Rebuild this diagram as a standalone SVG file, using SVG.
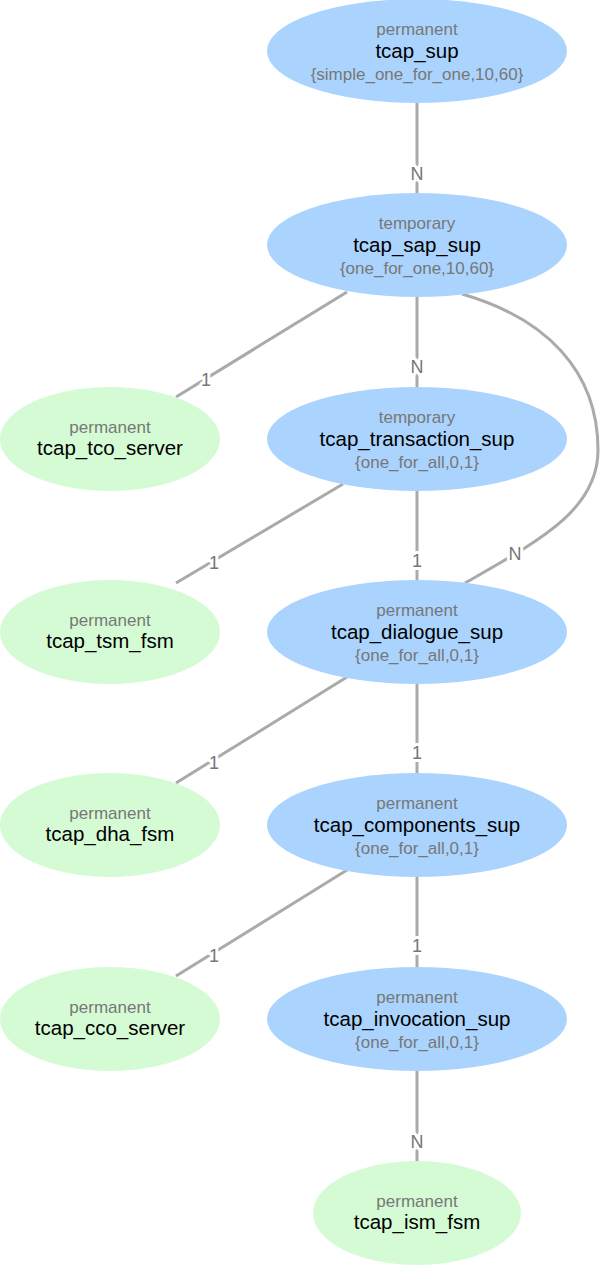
<svg xmlns="http://www.w3.org/2000/svg" width="600" height="1266" viewBox="0 0 600 1266">
<style>
.bg{fill:#ffffff}
.sup{fill:#aad4fe}
.wrk{fill:#d5fbd5}
.t{font-family:"Liberation Sans",Arial,sans-serif;text-anchor:middle}
.g{fill:#777777;font-size:17px}
.n{fill:#000000;font-size:20.5px}
.e{fill:none;stroke:#aaaaaa;stroke-width:3}
.l{font-family:"Liberation Sans",Arial,sans-serif;text-anchor:middle;font-size:18px;fill:#777777;stroke:#ffffff;stroke-width:6;paint-order:stroke;stroke-linejoin:round}
</style>
<rect class="bg" x="0" y="0" width="600" height="1266"/>
<g id="connectors">
<path class="e" d="M417,100 L417,193"/>
<path class="e" d="M417,297 L417,387"/>
<path class="e" d="M347,292 L176,397"/>
<path class="e" d="M462,294 C545,318 598,370 598,450 C598,510 540,540 465,583"/>
<path class="e" d="M343,484 L176,583"/>
<path class="e" d="M417,491 L417,580"/>
<path class="e" d="M347,677 L176,783"/>
<path class="e" d="M417,684 L417,773"/>
<path class="e" d="M347,870 L176,976"/>
<path class="e" d="M417,877 L417,967"/>
<path class="e" d="M417,1071 L417,1161"/>
<text class="l" x="417" y="179.5">N</text>
<text class="l" x="417" y="372.5">N</text>
<text class="l" x="206" y="385.5">1</text>
<text class="l" x="515" y="559.5">N</text>
<text class="l" x="214" y="568.5">1</text>
<text class="l" x="417" y="566.5">1</text>
<text class="l" x="214" y="768.5">1</text>
<text class="l" x="417" y="758.5">1</text>
<text class="l" x="214" y="961.5">1</text>
<text class="l" x="417" y="951.5">1</text>
<text class="l" x="417" y="1147.5">N</text>
</g>
<g id="tcap_sup">
<ellipse class="sup" cx="417" cy="51" rx="150" ry="52"/>
<text class="t g" x="417" y="35">permanent</text>
<text class="t n" x="417" y="58">tcap_sup</text>
<text class="t g" x="417" y="80">{simple_one_for_one,10,60}</text>
</g>
<g id="tcap_sap_sup">
<ellipse class="sup" cx="417" cy="245" rx="150" ry="52"/>
<text class="t g" x="417" y="229">temporary</text>
<text class="t n" x="417" y="252">tcap_sap_sup</text>
<text class="t g" x="417" y="274">{one_for_one,10,60}</text>
</g>
<g id="tcap_tco_server">
<ellipse class="wrk" cx="110" cy="439" rx="110" ry="52"/>
<text class="t g" x="110" y="433">permanent</text>
<text class="t n" x="110" y="455">tcap_tco_server</text>
</g>
<g id="tcap_transaction_sup">
<ellipse class="sup" cx="417" cy="439" rx="150" ry="52"/>
<text class="t g" x="417" y="423">temporary</text>
<text class="t n" x="417" y="446">tcap_transaction_sup</text>
<text class="t g" x="417" y="468">{one_for_all,0,1}</text>
</g>
<g id="tcap_tsm_fsm">
<ellipse class="wrk" cx="110" cy="632" rx="110" ry="52"/>
<text class="t g" x="110" y="626">permanent</text>
<text class="t n" x="110" y="648">tcap_tsm_fsm</text>
</g>
<g id="tcap_dialogue_sup">
<ellipse class="sup" cx="417" cy="632" rx="150" ry="52"/>
<text class="t g" x="417" y="616">permanent</text>
<text class="t n" x="417" y="639">tcap_dialogue_sup</text>
<text class="t g" x="417" y="661">{one_for_all,0,1}</text>
</g>
<g id="tcap_dha_fsm">
<ellipse class="wrk" cx="110" cy="825" rx="110" ry="52"/>
<text class="t g" x="110" y="819">permanent</text>
<text class="t n" x="110" y="841">tcap_dha_fsm</text>
</g>
<g id="tcap_components_sup">
<ellipse class="sup" cx="417" cy="825" rx="150" ry="52"/>
<text class="t g" x="417" y="809">permanent</text>
<text class="t n" x="417" y="832">tcap_components_sup</text>
<text class="t g" x="417" y="854">{one_for_all,0,1}</text>
</g>
<g id="tcap_cco_server">
<ellipse class="wrk" cx="110" cy="1019" rx="110" ry="52"/>
<text class="t g" x="110" y="1013">permanent</text>
<text class="t n" x="110" y="1035">tcap_cco_server</text>
</g>
<g id="tcap_invocation_sup">
<ellipse class="sup" cx="417" cy="1019" rx="150" ry="52"/>
<text class="t g" x="417" y="1003">permanent</text>
<text class="t n" x="417" y="1026">tcap_invocation_sup</text>
<text class="t g" x="417" y="1048">{one_for_all,0,1}</text>
</g>
<g id="tcap_ism_fsm">
<ellipse class="wrk" cx="417" cy="1213" rx="104" ry="52"/>
<text class="t g" x="417" y="1207">permanent</text>
<text class="t n" x="417" y="1229">tcap_ism_fsm</text>
</g>
</svg>
